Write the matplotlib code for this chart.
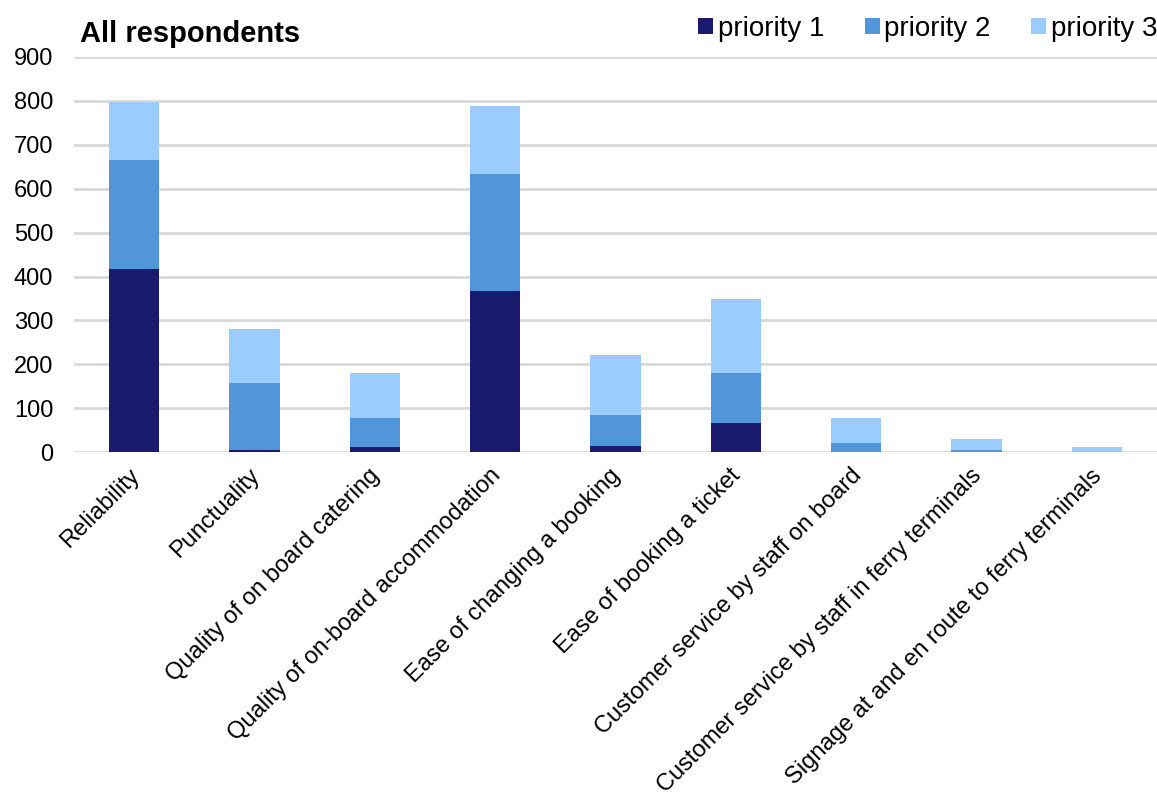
import matplotlib.pyplot as plt
import matplotlib.transforms as mtransforms
import numpy as np

plt.rcParams['font.family'] = ['Liberation Sans', 'DejaVu Sans']

categories = [
    'Reliability',
    'Punctuality',
    'Quality of on board catering',
    'Quality of on-board accommodation',
    'Ease of changing a booking',
    'Ease of booking a ticket',
    'Customer service by staff on board',
    'Customer service by staff in ferry terminals',
    'Signage at and en route to ferry terminals',
]
priority_1 = [417, 5, 13, 367, 14, 66, 1, 0, 0]
priority_2 = [248, 152, 64, 266, 71, 114, 20, 5, 1]
priority_3 = [132, 123, 103, 155, 137, 168, 57, 24, 10]

colors = ['#1A1A6E', '#5096D8', '#9ACCFF']

fig = plt.figure(figsize=(11.57, 7.99), dpi=100)
ax = fig.add_axes([0.064, 0.434, 0.936, 0.4947])

x = np.arange(len(categories))
p1 = np.array(priority_1)
p2 = np.array(priority_2)
p3 = np.array(priority_3)
w = 0.42
ax.bar(x, p1, w, color=colors[0], label='priority 1', zorder=3)
ax.bar(x, p2, w, bottom=p1, color=colors[1], label='priority 2', zorder=3)
ax.bar(x, p3, w, bottom=p1 + p2, color=colors[2], label='priority 3', zorder=3)

ax.set_xlim(-0.5, len(categories) - 0.5)
ax.set_ylim(0, 900)
ax.set_yticks(range(0, 901, 100))
ax.yaxis.grid(True, color='#D9D9D9', linewidth=2)
ax.set_axisbelow(True)
for s in ax.spines.values():
    s.set_visible(False)
ax.tick_params(axis='y', length=0, labelsize=17, pad=15)
ax.tick_params(axis='x', length=0, labelsize=17, pad=9)
ax.set_xticks(x)
ax.set_xticklabels(categories, rotation=45, ha='right', rotation_mode='anchor')
shift = mtransforms.ScaledTranslation(-6 / 100, 0, fig.dpi_scale_trans)
for lbl in ax.get_xticklabels():
    lbl.set_transform(lbl.get_transform() + shift)

fig.text(80 / 1157, 1 - 42 / 799, 'All respondents', fontsize=21,
         fontweight='bold', va='baseline', ha='left')
fig.legend(loc='center left', bbox_to_anchor=(698 / 1157, 1 - 29 / 799),
           ncol=3, frameon=False, fontsize=20, handlelength=0.54,
           handleheight=0.54, handletextpad=0.18, columnspacing=1.44,
           borderpad=0, borderaxespad=0)

fig.savefig('out.png', dpi=100)
